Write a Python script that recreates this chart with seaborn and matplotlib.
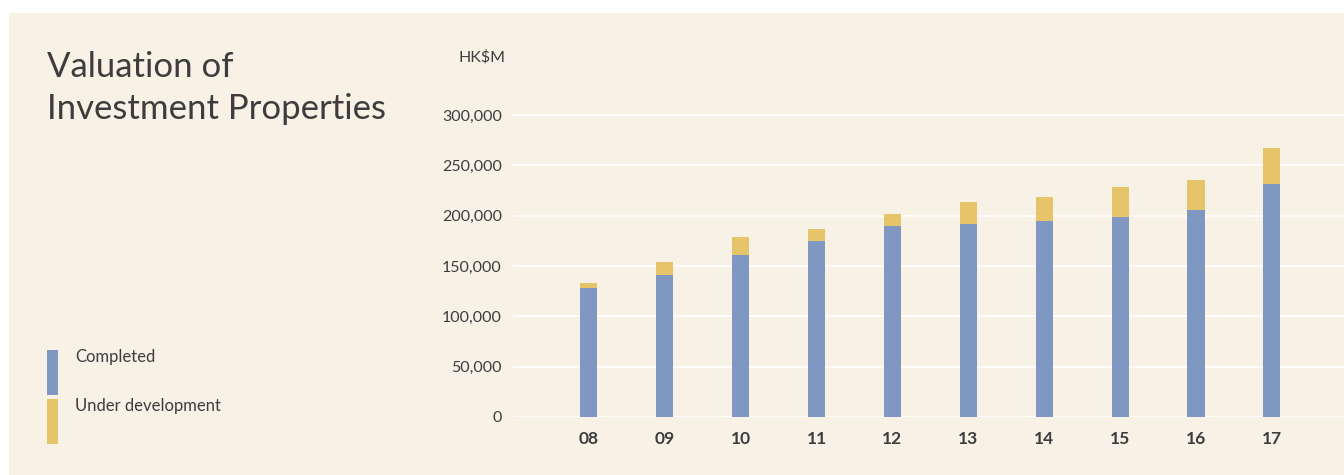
import pandas as pd
import seaborn as sns
import matplotlib.pyplot as plt
from matplotlib.patches import Rectangle
from matplotlib.ticker import FuncFormatter

# ========= data (HK$M) =========
years = ["08", "09", "10", "11", "12", "13", "14", "15", "16", "17"]
completed = [128300, 141200, 161000, 174800, 189600, 191600, 194600, 198500, 205500, 231200]
under_dev = [4900, 12800, 17800, 11900, 11900, 21800, 23700, 29700, 29700, 35600]
yticks = [0, 50000, 100000, 150000, 200000, 250000, 300000]

BG = "#F7F1E6"
BLUE = "#8097C2"
YELLOW = "#E6C56A"
TXT = "#3D3D3D"

df = pd.DataFrame({"year": years, "completed": completed, "under_dev": under_dev})
df["total"] = df["completed"] + df["under_dev"]

sns.set_theme(style="white")
plt.rcParams["font.family"] = ["Lato", "DejaVu Sans"]

W, H = 1344, 475
fig = plt.figure(figsize=(W / 100, H / 100), dpi=100, facecolor="white")

# beige panel behind everything
fig.patches.append(Rectangle((9 / W, 0), 1 - 9 / W, (H - 13) / H,
                             transform=fig.transFigure, facecolor=BG,
                             edgecolor="none", zorder=-10))

# axes: left 513px, bottom at y=417px, top at y=100px
ax = fig.add_axes([513 / W, (H - 417) / H, (W - 513) / W, (417 - 100) / H])
ax.set_facecolor("none")

sns.barplot(data=df, x="year", y="total", order=years, color=YELLOW,
            width=0.225, saturation=1, linewidth=0, ax=ax, zorder=3)
sns.barplot(data=df, x="year", y="completed", order=years, color=BLUE,
            width=0.225, saturation=1, linewidth=0, ax=ax, zorder=4)

ax.set_xlim(-1.0, 9.95)
ax.set_ylim(0, 300000 * 317 / 302)
ax.set_yticks(yticks)
ax.yaxis.set_major_formatter(FuncFormatter(lambda v, p: f"{int(v):,}"))
ax.grid(axis="y", color="white", linewidth=1.3, zorder=1)
ax.set_axisbelow(True)
for s in ax.spines.values():
    s.set_visible(False)
ax.set_xlabel("")
ax.set_ylabel("")
ax.tick_params(axis="y", length=0, pad=8, labelsize=11.5, labelcolor=TXT)
ax.tick_params(axis="x", length=0, pad=10, labelsize=12.5, labelcolor=TXT)
for lab in ax.get_xticklabels():
    lab.set_fontweight("bold")

# unit label
fig.text(505 / W, 1 - 57 / H, "HK$M", ha="right", va="center", fontsize=11.5, color=TXT)

# title, two lines placed by baseline
fig.text(47 / W, 1 - 77 / H, "Valuation of", ha="left", va="baseline",
         fontsize=25, color=TXT)
fig.text(47 / W, 1 - 119 / H, "Investment Properties", ha="left", va="baseline",
         fontsize=25, color=TXT)

# legend
for y0, col, label in [(350, BLUE, "Completed"), (399, YELLOW, "Under development")]:
    fig.patches.append(Rectangle((47 / W, 1 - (y0 + 45) / H), 11 / W, 45 / H,
                                 transform=fig.transFigure, facecolor=col,
                                 edgecolor="none"))
    fig.text(75 / W, 1 - (y0 + 7) / H, label, ha="left", va="center",
             fontsize=12, color=TXT)

fig.savefig("out.png", dpi=100, facecolor="white")
